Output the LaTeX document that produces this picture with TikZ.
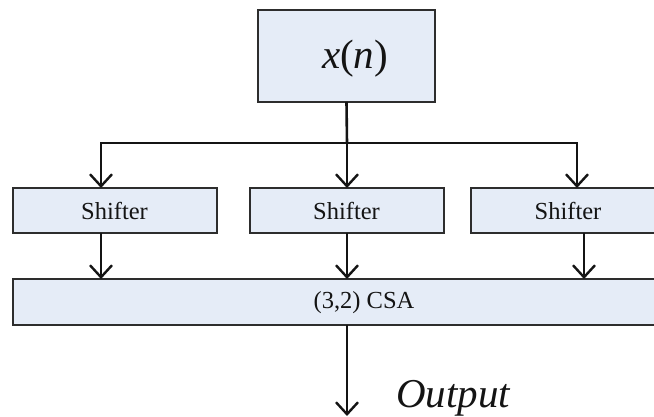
\documentclass[tikz,border=0pt]{standalone}
\usepackage{fontspec}
\setmainfont{Liberation Serif}[ItalicFont={Liberation Serif Italic}]
\usetikzlibrary{arrows.meta}
\definecolor{boxfill}{RGB}{229,236,247}
\definecolor{ink}{RGB}{20,20,20}
\definecolor{edge}{RGB}{45,45,45}
\tikzset{
  blk/.style={draw=edge, line width=2.3pt, fill=boxfill, inner sep=0pt, outer sep=0pt},
  wire/.style={draw=ink, line width=2.6pt},
  arr/.style={wire, -{Straight Barb[length=12pt, width=22pt, line width=2.4pt]}},
  lbl/.style={font=\fontsize{24.5}{26}\selectfont, text=ink, anchor=base}
}
\begin{document}
\begin{tikzpicture}[x=1pt, y=-1pt]
  \useasboundingbox (0,0) rectangle (654,417);
  \clip (0,0) rectangle (654,417);
  \fill[white] (0,0) rectangle (654,417);

  % input block
  \node[blk, minimum width=177pt, minimum height=92pt] (xn) at (346.5,56) {};
  \node[text=ink, font=\fontsize{41}{43}\selectfont, anchor=base] (xnt) at (355,69) {\textit{x}(\textit{n})};

  % three shifters
  \node[blk, minimum width=204pt, minimum height=45pt] (s1) at (115,210.5) {};
  \node[blk, minimum width=194pt, minimum height=45pt] (s2) at (347,210.5) {};
  \node[blk, minimum width=194pt, minimum height=45pt] (s3) at (568,210.5) {};
  \node[lbl] (s1t) at (114.5,219) {Shifter};
  \node[lbl] (s2t) at (346.5,219) {Shifter};
  \node[lbl] (s3t) at (568,219) {Shifter};

  % carry-save adder
  \node[blk, minimum width=655pt, minimum height=46pt] (csa) at (340.5,302) {};
  \node[lbl] (csat) at (364,308) {(3,2) CSA};

  % fan-out bus
  \coordinate (split) at (347,143);
  \coordinate (bl) at (101,143);
  \coordinate (br) at (577,143);
  \draw[wire] (xn.south) -- (split);
  \draw[wire, line cap=rect] (bl) -- (br);
  \draw[arr] (bl) -- (bl |- s1.north);
  \draw[arr] (split) -- (s2.north);
  \draw[arr] (br) -- (br |- s3.north);

  % shifter outputs into the CSA
  \draw[arr] (s1.south -| bl) -- (csa.north -| bl);
  \draw[arr] (s2.south) -- (csa.north -| s2.south);
  \coordinate (r3) at (584,0);
  \draw[arr] (s3.south -| r3) -- (csa.north -| r3);

  % result
  \coordinate (out) at (347,416);
  \draw[arr] (csa.south -| s2.south) -- (out);
  \node[text=ink, font=\fontsize{41}{43}\selectfont\itshape, anchor=base] (outt) at (453,407) {Output};
\end{tikzpicture}
\end{document}
